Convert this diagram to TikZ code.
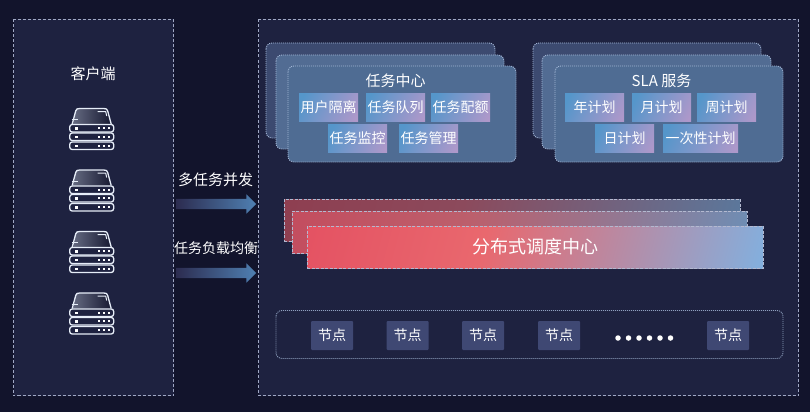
\documentclass[tikz,border=0pt]{standalone}
\usepackage{fontspec}
\setmainfont{Noto Sans CJK SC}
\usetikzlibrary{shapes.arrows}
\definecolor{bgc}{HTML}{12142C}
\definecolor{panelc}{HTML}{1E2240}
\definecolor{dashc}{HTML}{A0A8C4}
\definecolor{stackline}{HTML}{A3B6D6}
\definecolor{backc}{HTML}{3C4A70}
\definecolor{midc}{HTML}{526C93}
\definecolor{frontc}{HTML}{4F6C93}
\definecolor{nodec}{HTML}{3F4873}
\definecolor{iconc}{HTML}{E6EDF8}
\definecolor{chipA}{HTML}{5596CA}
\definecolor{chipB}{HTML}{AE98CA}
\definecolor{fA}{HTML}{E45162}
\definecolor{fB}{HTML}{E9686E}
\definecolor{fC}{HTML}{7FB2E2}
\definecolor{mA}{HTML}{C44C5E}
\definecolor{mB}{HTML}{BC5F6C}
\definecolor{mC}{HTML}{6A90B8}
\definecolor{bA}{HTML}{8E3E50}
\definecolor{bB}{HTML}{8C4A5C}
\definecolor{bC}{HTML}{587A9F}
\definecolor{arA}{HTML}{2C2C50}
\definecolor{arB}{HTML}{4F80B2}
\pgfdeclarehorizontalshading{chipshade}{100bp}{color(0bp)=(chipA);color(22bp)=(chipA);color(80bp)=(chipB);color(100bp)=(chipB)}
\pgfdeclarehorizontalshading{frontshade}{100bp}{color(0bp)=(fA);color(18bp)=(fA);color(43bp)=(fB);color(82bp)=(fC);color(100bp)=(fC)}
\pgfdeclarehorizontalshading{midshade}{100bp}{color(0bp)=(mA);color(18bp)=(mA);color(43bp)=(mB);color(82bp)=(mC);color(100bp)=(mC)}
\pgfdeclarehorizontalshading{backshade}{100bp}{color(0bp)=(bA);color(18bp)=(bA);color(43bp)=(bB);color(82bp)=(bC);color(100bp)=(bC)}
\pgfdeclarehorizontalshading{arrowshade}{100bp}{color(0bp)=(arA);color(25bp)=(arA);color(75bp)=(arB);color(100bp)=(arB)}
\newcommand{\px}[1]{\fontsize{#1}{#1}\selectfont}
\tikzset{
  panel/.style={draw=dashc,fill=panelc,line width=.8pt,dash pattern=on 3pt off 2pt},
  stack/.style={draw=stackline,line width=.9pt,dash pattern=on 1pt off 1pt,rounded corners=6pt},
  chiptile/.style={shading=chipshade,shading angle=-25,text=white,inner sep=0pt,minimum height=28pt,font=\px{14}},
  nodetile/.style={fill=nodec,rounded corners=1pt,text=white,inner sep=0pt,minimum width=42pt,minimum height=29pt,font=\px{14}},
  sched/.style={draw=dashc!80!white,line width=.9pt,dash pattern=on 3pt off 1.5pt,shading angle=-15,inner sep=0pt,minimum width=456pt,minimum height=42pt},
  label/.style={text=white,inner sep=0pt},
  flowarrow/.style={shape=single arrow,shading=arrowshade,shading angle=0,inner xsep=0pt,inner ysep=5pt,minimum width=19pt,minimum height=80pt,single arrow head extend=4.5pt,draw=none},
  dotc/.style={circle,fill=white,inner sep=0pt,minimum size=5.5pt},
  server/.pic={
    \shade[left color=iconc!35!panelc,right color=panelc!80!black]
      (-18.5,16) -- (-16,3) .. controls (-15.5,1) and (-14.5,.5) .. (-12,.5) -- (12,.5) .. controls (14.5,.5) and (15.5,1) .. (16,3) -- (18.5,16) -- cycle;
    \draw[iconc,line width=1.3pt,line join=round]
      (-19.5,16) -- (-16,3) .. controls (-15.5,1) and (-14.5,.5) .. (-12,.5) -- (12,.5) .. controls (14.5,.5) and (15.5,1) .. (16,3) -- (19.5,16);
    \draw[iconc,line width=1pt] (6,3.5) -- (14,3.5) -- (15,8);
    \draw[iconc,line width=1pt] (-20,11.5) -- (-14,11.5);
    \foreach \t in {16.5,25,34}{
      \draw[iconc,fill=panelc,line width=1.3pt,rounded corners=2.5pt] (-22,\t) rectangle (22,\t+7.5);
      \fill[white] (-17,\t+2.5) rectangle (-13.5,\t+5);
      \foreach \d in {7,12.3,17}{\fill[white] (\d-1,\t+2.8) rectangle (\d+1,\t+4.8);}
    }
  }
}
\begin{document}
\begin{tikzpicture}[x=1pt,y=-1pt]
\useasboundingbox (0,0) rectangle (810,412);
\fill[bgc] (0,0) rectangle (810,412);

% panels
\draw[panel] (13.5,19.5) rectangle (173.5,395.5);
\draw[panel] (258.5,19.5) rectangle (798.5,395.5);

% client
\node[label,font=\px{15}] (clienttitle) at (93,74) {客户端};
\pic at (91.7,108) {server};
\pic at (91.7,169.5) {server};
\pic at (91.7,231) {server};
\pic at (91.7,292.5) {server};

% arrows
\node[flowarrow] (arrowone) at (213.5,204) {};
\node[flowarrow] (arrowtwo) at (213.5,273) {};
\node[label,font=\px{15}] (labelone) at (215.5,180) {多任务并发};
\node[label,font=\px{14}] (labeltwo) at (216,248) {任务负载均衡};

% task stack
\draw[stack,fill=backc] (266,43) rectangle (495,138);
\draw[stack,fill=midc] (276,55) rectangle (504,149);
\draw[stack,fill=frontc] (288,66) rectangle (516,162);
\node[label,font=\px{15}] (tasktitle) at (395.5,81) {任务中心};
\node[chiptile,minimum width=59pt] (t1) at (328.5,107) {用户隔离};
\node[chiptile,minimum width=59pt] (t2) at (395.5,107) {任务队列};
\node[chiptile,minimum width=59pt] (t3) at (460.5,107) {任务配额};
\node[chiptile,minimum width=59pt] (t4) at (357.5,138.5) {任务监控};
\node[chiptile,minimum width=59pt] (t5) at (428.5,138.5) {任务管理};

% SLA stack
\draw[stack,fill=backc] (533,43) rectangle (761,138);
\draw[stack,fill=midc] (542,55) rectangle (771,149);
\draw[stack,fill=frontc] (555,66) rectangle (783,162);
\node[label,font=\px{15}] (slatitle) at (661.5,81) {SLA 服务};
\node[chiptile,minimum width=59pt] (s1) at (594.5,107) {年计划};
\node[chiptile,minimum width=59pt] (s2) at (661.5,107) {月计划};
\node[chiptile,minimum width=59pt] (s3) at (726.5,107) {周计划};
\node[chiptile,minimum width=59pt] (s4) at (624.5,138.5) {日计划};
\node[chiptile,minimum width=75pt] (s5) at (700.5,138.5) {一次性计划};

% scheduler
\node[sched,shading=backshade] (schedback) at (512,220) {};
\node[sched,shading=midshade,minimum width=455pt] (schedmid) at (519.5,232) {};
\node[sched,shading=frontshade,text=white,font=\px{18}] (schedfront) at (535,247) {分布式调度中心};

% node row
\draw[stack,draw=stackline!85!panelc] (276,310.5) rectangle (783,358.5);
\node[nodetile] (n1) at (332,335.5) {节点};
\node[nodetile] (n2) at (407.5,335.5) {节点};
\node[nodetile] (n3) at (483,335.5) {节点};
\node[nodetile] (n4) at (559,335.5) {节点};
\node[nodetile] (n5) at (728,335.5) {节点};
\node[dotc] (d1) at (618,338) {};
\node[dotc] (d2) at (628.5,338) {};
\node[dotc] (d3) at (639,338) {};
\node[dotc] (d4) at (649.5,338) {};
\node[dotc] (d5) at (660,338) {};
\node[dotc] (d6) at (670.5,338) {};
\end{tikzpicture}
\end{document}
